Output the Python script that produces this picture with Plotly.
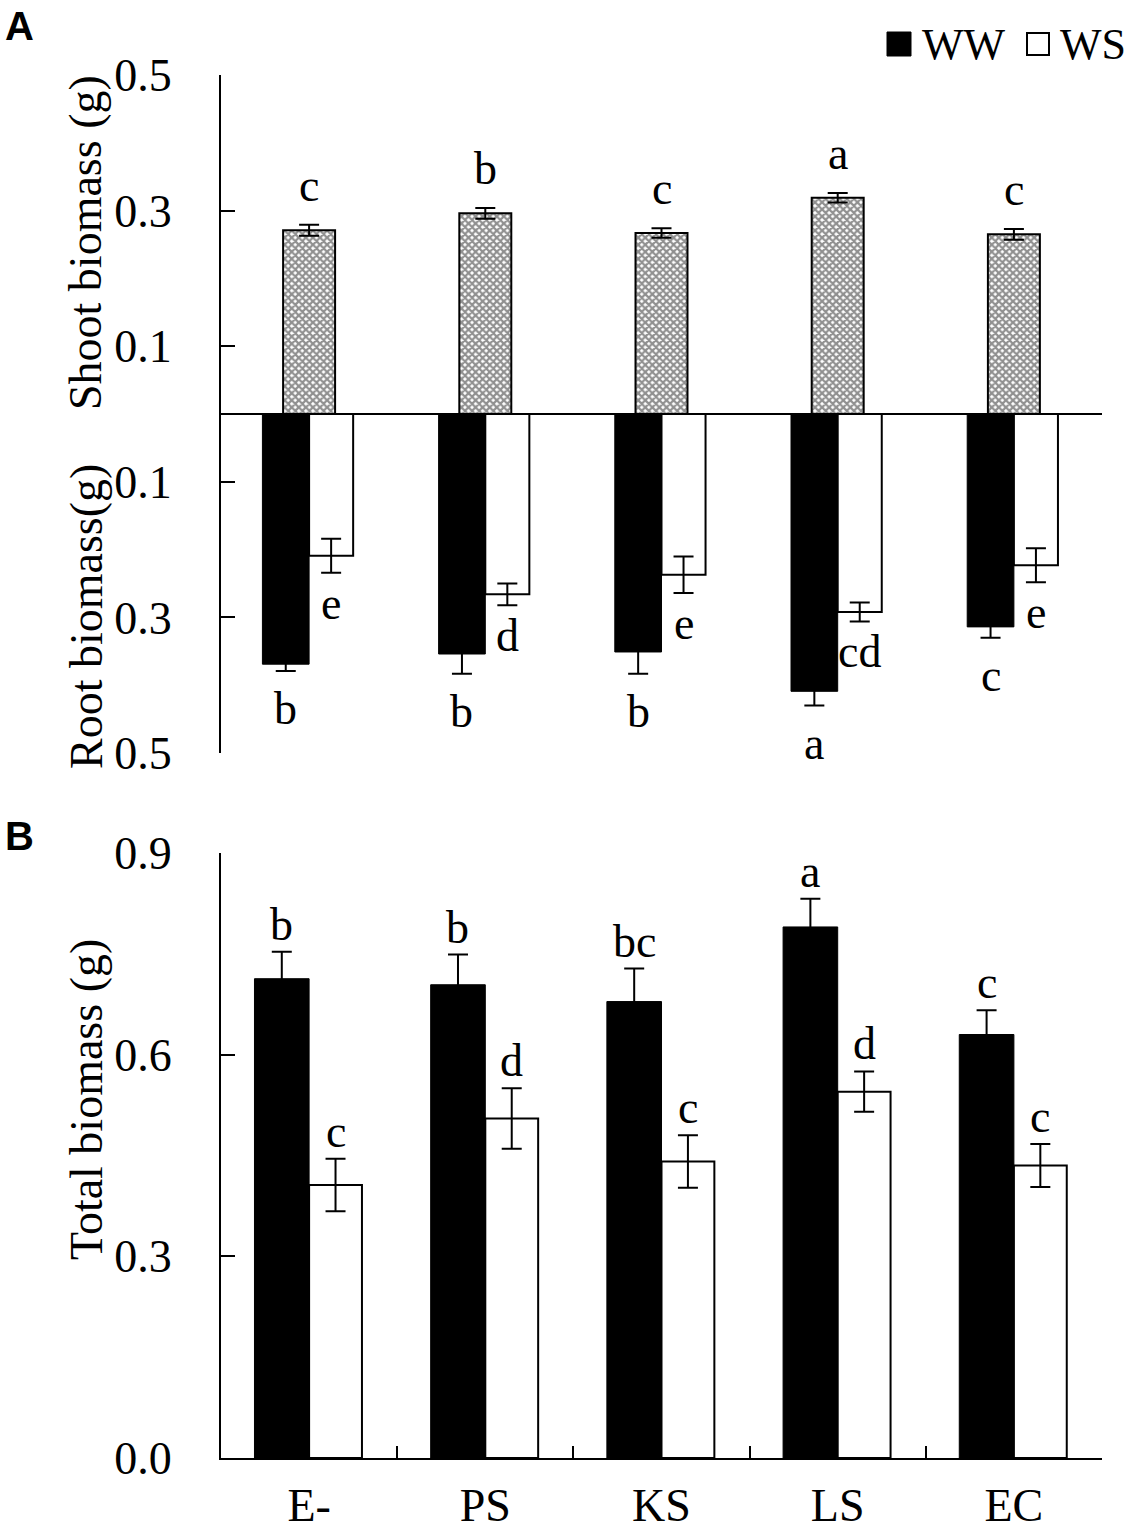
import plotly.graph_objects as go

# treatments on the x axis
groups = ['E-', 'PS', 'KS', 'LS', 'EC']

# panel A - shoot biomass (only one bar per group)
shoot_mean = [0.271, 0.296, 0.267, 0.319, 0.265]
shoot_err = [0.008, 0.008, 0.007, 0.007, 0.008]
shoot_letters = ['c', 'b', 'c', 'a', 'c']

# panel A - root biomass, drawn downwards
root_ww_mean = [0.369, 0.354, 0.351, 0.409, 0.314]
root_ww_err = [0.010, 0.029, 0.032, 0.021, 0.016]
root_ww_letters = ['b', 'b', 'b', 'a', 'c']
root_ws_mean = [0.209, 0.266, 0.237, 0.292, 0.223]
root_ws_err = [0.025, 0.016, 0.027, 0.014, 0.025]
root_ws_letters = ['e', 'd', 'e', 'cd', 'e']

# panel B - total biomass
total_ww_mean = [0.713, 0.704, 0.679, 0.790, 0.630]
total_ww_err = [0.040, 0.045, 0.049, 0.042, 0.036]
total_ww_letters = ['b', 'b', 'bc', 'a', 'c']
total_ws_mean = [0.406, 0.505, 0.441, 0.545, 0.435]
total_ws_err = [0.039, 0.045, 0.039, 0.030, 0.032]
total_ws_letters = ['c', 'd', 'c', 'd', 'c']

W, H = 1126, 1531
SERIF = 'Liberation Serif'
FS = 46


def px_x(p):
    return p / W


def px_y(p):
    return 1 - p / H


def err_bar(arr):
    return dict(type='data', array=arr, color='black', thickness=2, width=10)


fig = go.Figure()

# ---- panel A
fig.add_trace(go.Bar(
    x=groups, y=shoot_mean, offset=-0.1475, width=0.295,
    marker=dict(color='white', line=dict(color='black', width=2),
                pattern=dict(shape='x', fgcolor='#222222', bgcolor='white',
                             size=5, solidity=0.7)),
    error_y=err_bar(shoot_err), xaxis='x', yaxis='y', showlegend=False))

fig.add_trace(go.Bar(
    x=groups, y=[-v for v in root_ww_mean], offset=-0.265, width=0.265,
    marker=dict(color='black', line=dict(color='black', width=1)),
    error_y=err_bar(root_ww_err), xaxis='x', yaxis='y', showlegend=False))

fig.add_trace(go.Bar(
    x=groups, y=[-v for v in root_ws_mean], offset=0, width=0.25,
    marker=dict(color='white', line=dict(color='black', width=2)),
    error_y=err_bar(root_ws_err), xaxis='x', yaxis='y', showlegend=False))

# ---- panel B
fig.add_trace(go.Bar(
    x=groups, y=total_ww_mean, offset=-0.31, width=0.31,
    marker=dict(color='black', line=dict(color='black', width=1)),
    error_y=err_bar(total_ww_err), xaxis='x2', yaxis='y2', name='WW',
    showlegend=False))

fig.add_trace(go.Bar(
    x=groups, y=total_ws_mean, offset=0, width=0.30,
    marker=dict(color='white', line=dict(color='black', width=2)),
    error_y=err_bar(total_ws_err), xaxis='x2', yaxis='y2', name='WS',
    showlegend=False))

annotations = []


def add_letters(means, errs, letters, offset, width, xref, yref, sign, shift):
    for i, (m, e, t) in enumerate(zip(means, errs, letters)):
        annotations.append(dict(
            x=i + offset + width / 2, y=sign * (m + e), xref=xref, yref=yref,
            text=t, showarrow=False, font=dict(family=SERIF, size=FS, color='black'),
            xanchor='center', yanchor='bottom' if sign > 0 else 'top', yshift=shift))


add_letters(shoot_mean, shoot_err, shoot_letters, -0.1475, 0.295, 'x', 'y', 1, 12)
add_letters(root_ww_mean, root_ww_err, root_ww_letters, -0.265, 0.265, 'x', 'y', -1, -10)
add_letters(root_ws_mean, root_ws_err, root_ws_letters, 0, 0.25, 'x', 'y', -1, -3)
add_letters(total_ww_mean, total_ww_err, total_ww_letters, -0.31, 0.31, 'x2', 'y2', 1, 0)
add_letters(total_ws_mean, total_ws_err, total_ws_letters, 0, 0.30, 'x2', 'y2', 1, 0)

# axis titles
for text, yc in [('Shoot biomass (g)', 243), ('Root biomass(g)', 617), ('Total biomass (g)', 1100)]:
    annotations.append(dict(x=px_x(86), y=px_y(yc), xref='paper', yref='paper',
                            text=text, textangle=-90, showarrow=False,
                            xanchor='center', yanchor='middle',
                            font=dict(family=SERIF, size=FS, color='black')))

# panel letters
for text, yc in [('A', 26), ('B', 836)]:
    annotations.append(dict(x=px_x(3), y=px_y(yc), xref='paper', yref='paper',
                            text='<b>%s</b>' % text, showarrow=False,
                            xanchor='left', yanchor='middle',
                            font=dict(family='Liberation Sans', size=40, color='black')))

# legend
shapes = [
    dict(type='rect', xref='paper', yref='paper', x0=px_x(887), x1=px_x(911),
         y0=px_y(56), y1=px_y(32), fillcolor='black', line=dict(color='black', width=1)),
    dict(type='rect', xref='paper', yref='paper', x0=px_x(1027), x1=px_x(1049),
         y0=px_y(55), y1=px_y(33), fillcolor='white', line=dict(color='black', width=2)),
]
for text, xl in [('WW', 920), ('WS', 1058)]:
    annotations.append(dict(x=px_x(xl), y=px_y(44), xref='paper', yref='paper',
                            text=text, showarrow=False, xanchor='left', yanchor='middle',
                            font=dict(family=SERIF, size=44, color='black')))

xdom = [px_x(221), px_x(1102)]
yaxis_common = dict(ticks='inside', ticklen=14, tickwidth=2, tickcolor='black',
                    showline=True, linewidth=2, linecolor='black', showgrid=False,
                    tickfont=dict(family=SERIF, size=FS, color='black'),
                    ticklabelstandoff=38, automargin=False)

fig.update_layout(
    width=W, height=H, margin=dict(l=0, r=0, t=0, b=0),
    paper_bgcolor='white', plot_bgcolor='white', barmode='overlay',
    xaxis=dict(domain=xdom, type='category', range=[-0.5, 4.5], showticklabels=False,
               ticks='', showline=False, showgrid=False, anchor='y', automargin=False),
    yaxis=dict(domain=[px_y(753), px_y(75)], range=[-0.5, 0.5], anchor='x',
               tickvals=[-0.5, -0.3, -0.1, 0.1, 0.3, 0.5],
               ticktext=['0.5', '0.3', '0.1', '0.1', '0.3', '0.5'],
               zeroline=True, zerolinecolor='black', zerolinewidth=2, **yaxis_common),
    xaxis2=dict(domain=xdom, type='category', range=[-0.5, 4.5], anchor='y2',
                ticks='inside', tickson='boundaries', ticklen=12, tickwidth=2,
                tickcolor='black', showline=True, linewidth=2, linecolor='black',
                showgrid=False, tickfont=dict(family=SERIF, size=FS, color='black'),
                ticklabelstandoff=6, automargin=False),
    yaxis2=dict(domain=[px_y(1458), px_y(853)], range=[0, 0.9], anchor='x2',
                tickvals=[0, 0.3, 0.6, 0.9], tickformat='.1f', zeroline=False,
                **yaxis_common),
    annotations=annotations, shapes=shapes,
)

fig.write_html('out.html', config={'displayModeBar': False},
               post_script="document.body.style.margin='0px';")
